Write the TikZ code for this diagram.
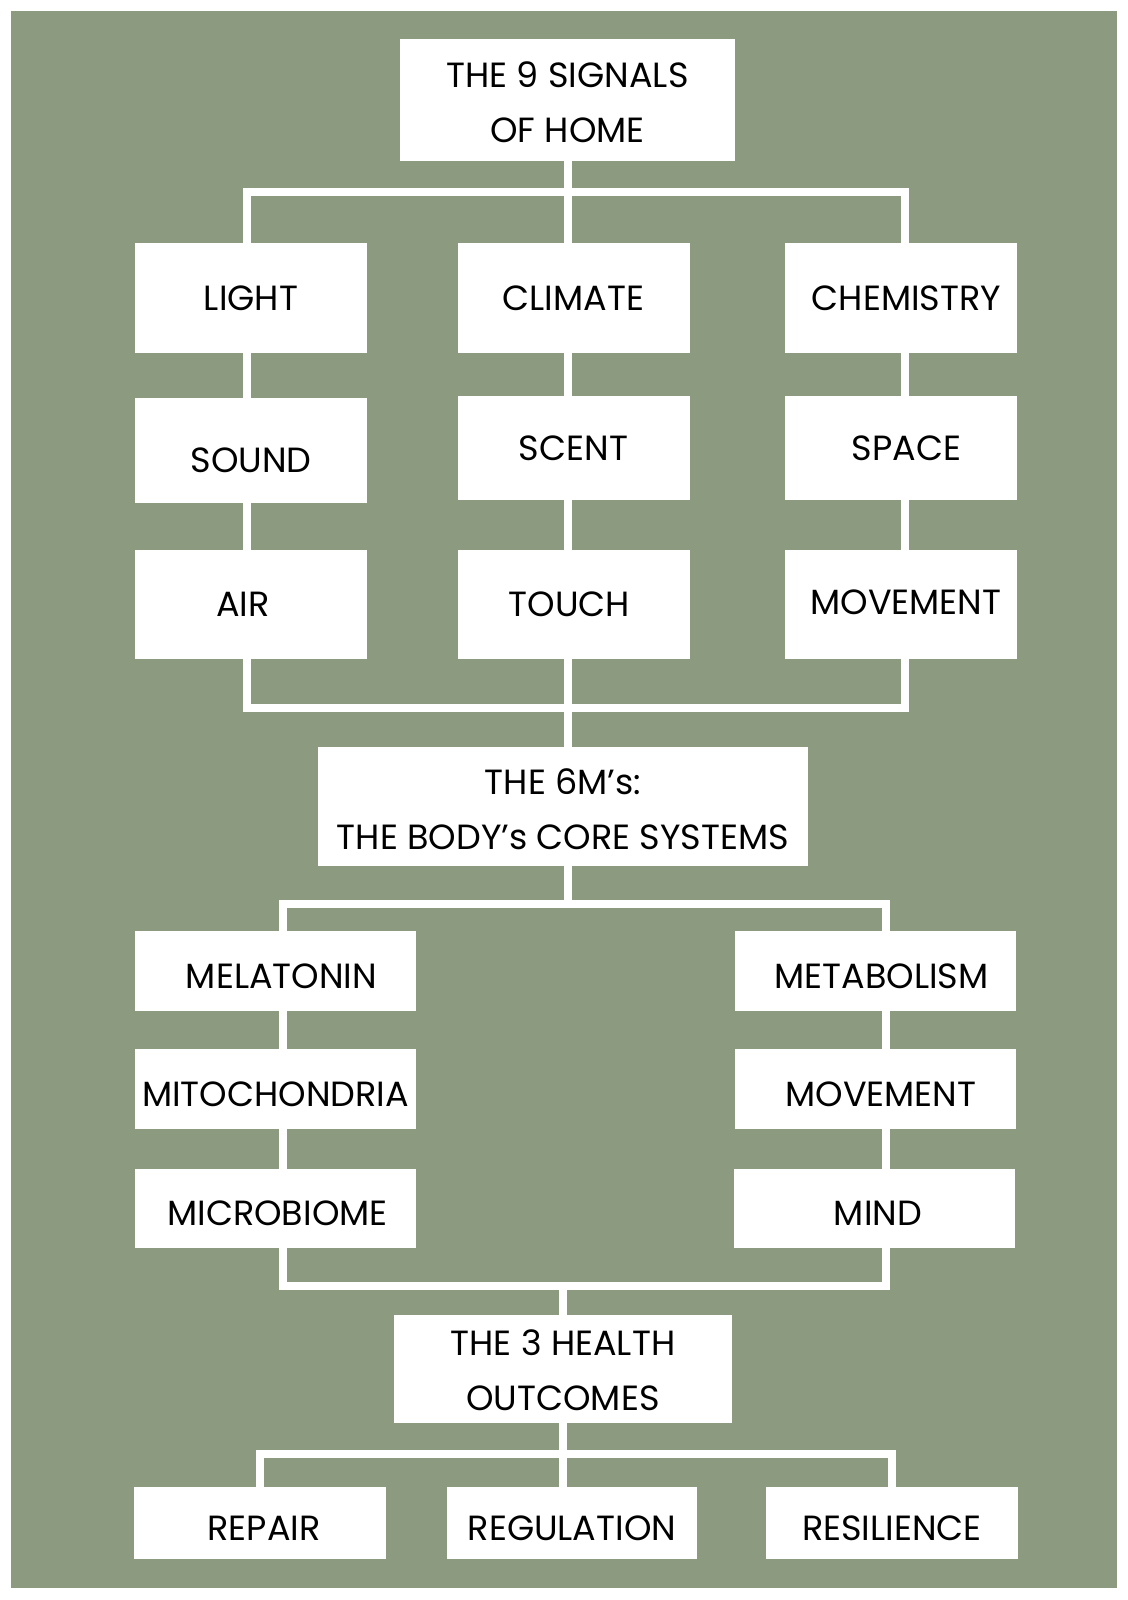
\documentclass[tikz,border=0pt]{standalone}
\usepackage{fontspec}
\setmainfont{Poppins}
\usepackage{tikz}
\usetikzlibrary{positioning,calc}
\definecolor{sage}{HTML}{8C9A7F}

\begin{document}
\begin{tikzpicture}[
  x=0.5pt, y=-0.5pt,
  font=\fontsize{17.5}{27.5}\selectfont,
  box/.style={fill=white, inner sep=0pt, align=center, minimum width=116pt, minimum height=53pt},
  low/.style={text height=17pt, text depth=0pt},
  wide/.style={box, low, minimum width=140.5pt, minimum height=40pt},
  wire/.style={draw=white, line width=4pt, line join=miter}
]
\useasboundingbox (0,0) rectangle (1128,1600);
\fill[sage] (11,11) rectangle (1117,1588);

% Bus lines and column lines
\coordinate (busA) at (0,192);
\coordinate (busB) at (0,708);
\coordinate (busC) at (0,904);
\coordinate (busD) at (0,1286);
\coordinate (busE) at (0,1454);
\coordinate (colL) at (247,0);
\coordinate (colM) at (568,0);
\coordinate (colR) at (905,0);
\coordinate (sysL) at (283,0);
\coordinate (sysR) at (886,0);

% Signals of home
\node[box, text height=42.5pt, minimum width=167.5pt, minimum height=61pt] (home) at (567.5,100) {THE 9 SIGNALS\\OF HOME};

\node[box, minimum height=55pt] (light)   at (251,298)   {LIGHT};
\node[box, minimum height=55pt] (climate) at (573.5,298) {CLIMATE};
\node[box, minimum height=55pt] (chem)    at (900.5,298) {\hspace{6pt}CHEMISTRY};
\node[box, text height=22pt, text depth=0pt, minimum height=52.5pt] (sound) at (251,450.5) {SOUND};
\node[box, minimum height=52pt] (scent)   at (573.5,448) {SCENT};
\node[box, minimum height=52pt] (space)   at (900.5,448) {\hspace{6pt}SPACE};
\node[box, minimum height=54.5pt] (air)   at (251,604.5) {AIR\hspace{8pt}};
\node[box, minimum height=54.5pt] (touch) at (573.5,604.5) {TOUCH\hspace{4pt}};
\node[box, minimum height=54.5pt] (move)  at (901,604.5) {\raisebox{2pt}{\hspace{5pt}MOVEMENT}};

% Core systems
\node[box, text height=43.5pt, minimum width=245pt, minimum height=59.5pt] (core) at (563,806.5) {THE 6M’s:\\THE BODY’s CORE SYSTEMS};

\node[wide] (mela)  at (275.5,971)  {\hspace{6pt}MELATONIN};
\node[wide] (mito)  at (275.5,1089) {MITOCHONDRIA};
\node[wide, minimum height=39.5pt] (micro) at (275.5,1208.5) {\hspace{2pt}MICROBIOME};
\node[wide] (meta)  at (875.5,971)  {\hspace{6pt}METABOLISM};
\node[wide] (motion) at (875,1089)  {\hspace{6pt}MOVEMENT};
\node[wide, minimum height=39.5pt] (mind) at (874,1208.5) {\hspace{4pt}MIND};

% Health outcomes
\node[box, text height=41.5pt, minimum width=169pt, minimum height=54pt] (health) at (563,1369) {THE 3 HEALTH\\OUTCOMES};

\node[box, low, minimum width=126pt, minimum height=36pt] (repair) at (260,1523) {\hspace{4pt}REPAIR};
\node[box, low, minimum width=125pt, minimum height=36pt] (regul)  at (572,1523) {REGULATION};
\node[box, low, minimum width=126pt, minimum height=36pt] (resil)  at (892,1523) {RESILIENCE};

% Connectors, top block
\draw[wire] (home.south -| colM) -- (climate.north -| colM);
\draw[wire] (light.north -| colL) -- (busA -| colL) -- (busA -| colR) -- (chem.north -| colR);
\foreach \a/\b in {light/sound, sound/air} \draw[wire] (\a.south -| colL) -- (\b.north -| colL);
\foreach \a/\b in {climate/scent, scent/touch} \draw[wire] (\a.south -| colM) -- (\b.north -| colM);
\foreach \a/\b in {chem/space, space/move} \draw[wire] (\a.south -| colR) -- (\b.north -| colR);
\draw[wire] (air.south -| colL) -- (busB -| colL) -- (busB -| colR) -- (move.south -| colR);
\draw[wire] (touch.south -| colM) -- (core.north -| colM);

% Connectors, middle block
\draw[wire] (core.south -| colM) -- (busC -| colM);
\draw[wire] (mela.north -| sysL) -- (busC -| sysL) -- (busC -| sysR) -- (meta.north -| sysR);
\foreach \a/\b in {mela/mito, mito/micro} \draw[wire] (\a.south -| sysL) -- (\b.north -| sysL);
\foreach \a/\b in {meta/motion, motion/mind} \draw[wire] (\a.south -| sysR) -- (\b.north -| sysR);
\draw[wire] (micro.south -| sysL) -- (busD -| sysL) -- (busD -| sysR) -- (mind.south -| sysR);
\draw[wire] (busD -| health.north) -- (health.north);

% Connectors, bottom block
\draw[wire] (health.south) -- (busE -| health.south);
\draw[wire] (repair.north) -- (busE -| repair.north) -- (busE -| resil.north) -- (resil.north);
\draw[wire] (busE -| health.south) -- (regul.north -| health.south);
\end{tikzpicture}
\end{document}
